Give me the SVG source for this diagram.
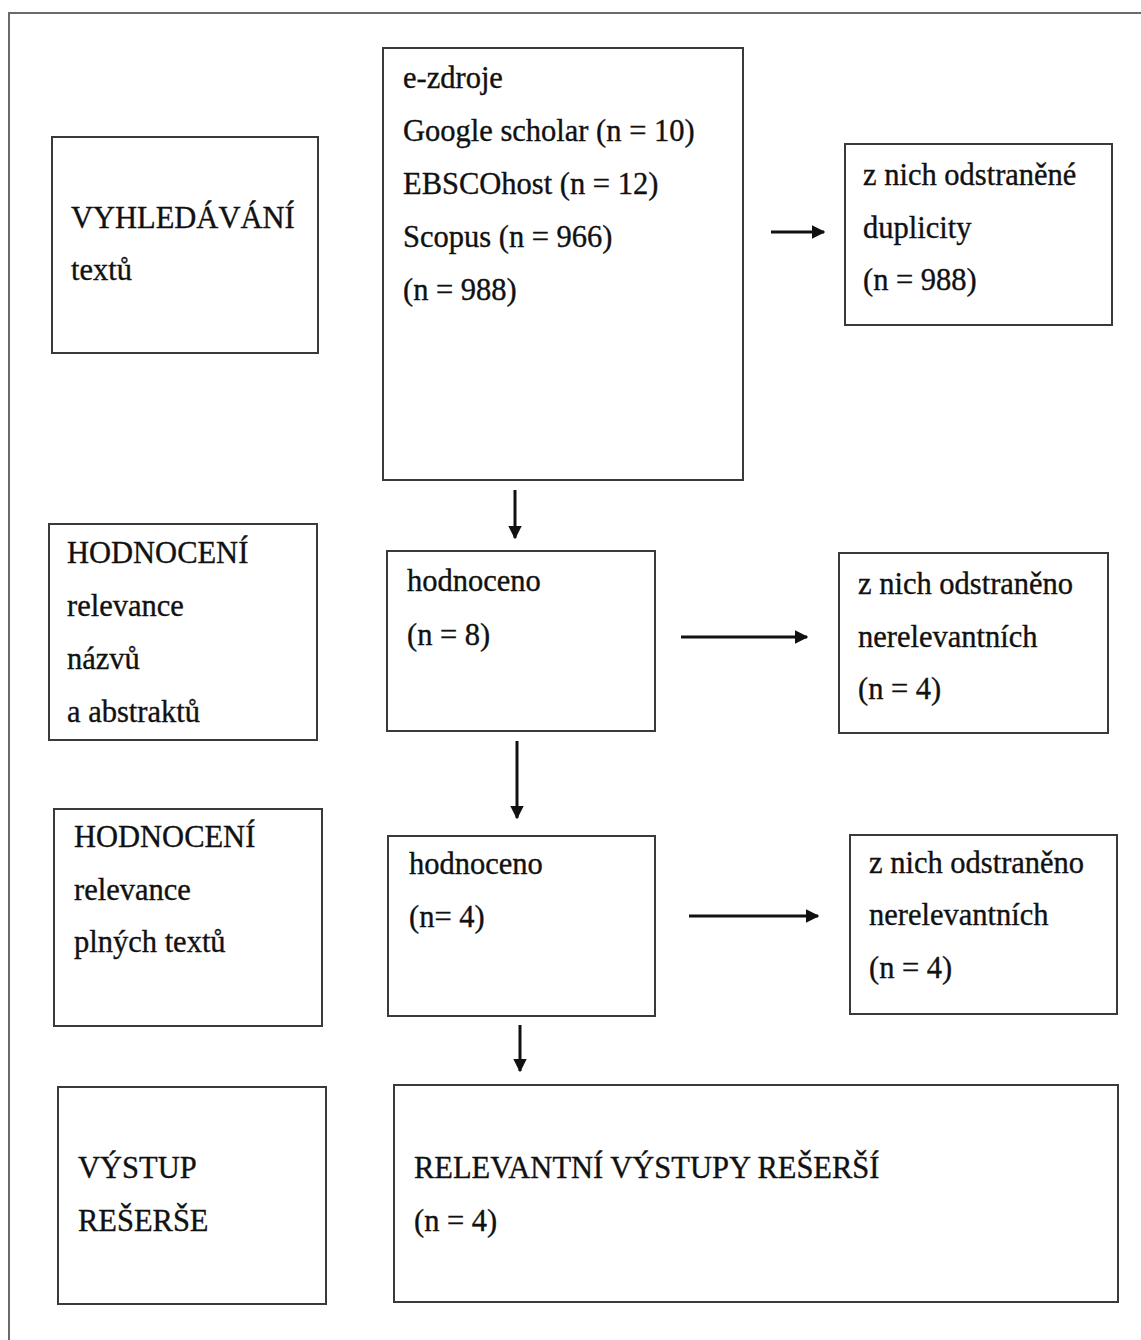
<svg xmlns="http://www.w3.org/2000/svg" width="1141" height="1340" viewBox="0 0 1141 1340">
<style>
.box{fill:#fff;stroke:#3a3a3a;stroke-width:2}
.t{font-family:"Liberation Serif","Times New Roman",serif;font-size:30.5px;fill:#111;stroke:#111;stroke-width:0.35}
.c{stroke:#111;stroke-width:3;fill:none}
.frame{stroke:#6a6a6a;stroke-width:2;fill:none}
</style>
<defs>
<marker id="ah" viewBox="0 0 10 10" refX="9" refY="5" markerWidth="4.5" markerHeight="4.5" orient="auto" markerUnits="strokeWidth">
<path d="M0,0 L10,5 L0,10 z" fill="#111"/>
</marker>
</defs>
<rect width="1141" height="1340" fill="#fff"/>
<path class="frame" d="M9,1340 V13 H1141"/>

<g id="n-vyhledavani">
<rect class="box" x="52" y="137" width="266" height="216"/>
<text class="t" x="71" y="228">VYHLEDÁVÁNÍ</text>
<text class="t" x="71" y="280">textů</text>
</g>
<g id="n-ezdroje">
<rect class="box" x="383" y="48" width="360" height="432"/>
<text class="t" x="403" y="88">e-zdroje</text>
<text class="t" x="403" y="141">Google scholar (n = 10)</text>
<text class="t" x="403" y="194">EBSCOhost (n = 12)</text>
<text class="t" x="403" y="247">Scopus (n = 966)</text>
<text class="t" x="403" y="300">(n = 988)</text>
</g>
<g id="n-duplicity">
<rect class="box" x="845" y="144" width="267" height="181"/>
<text class="t" x="863" y="185">z nich odstraněné</text>
<text class="t" x="863" y="238">duplicity</text>
<text class="t" x="863" y="290">(n = 988)</text>
</g>
<g id="n-hodnoceni1">
<rect class="box" x="49" y="524" width="268" height="216"/>
<text class="t" x="67" y="563">HODNOCENÍ</text>
<text class="t" x="67" y="616">relevance</text>
<text class="t" x="67" y="669">názvů</text>
<text class="t" x="67" y="722">a abstraktů</text>
</g>
<g id="n-hodnoceno1">
<rect class="box" x="387" y="551" width="268" height="180"/>
<text class="t" x="407" y="591">hodnoceno</text>
<text class="t" x="407" y="645">(n = 8)</text>
</g>
<g id="n-odstraneno1">
<rect class="box" x="839" y="553" width="269" height="180"/>
<text class="t" x="858" y="594">z nich odstraněno</text>
<text class="t" x="858" y="647">nerelevantních</text>
<text class="t" x="858" y="699">(n = 4)</text>
</g>
<g id="n-hodnoceni2">
<rect class="box" x="54" y="809" width="268" height="217"/>
<text class="t" x="74" y="847">HODNOCENÍ</text>
<text class="t" x="74" y="900">relevance</text>
<text class="t" x="74" y="952">plných textů</text>
</g>
<g id="n-hodnoceno2">
<rect class="box" x="388" y="836" width="267" height="180"/>
<text class="t" x="409" y="874">hodnoceno</text>
<text class="t" x="409" y="927">(n= 4)</text>
</g>
<g id="n-odstraneno2">
<rect class="box" x="850" y="835" width="267" height="179"/>
<text class="t" x="869" y="873">z nich odstraněno</text>
<text class="t" x="869" y="925">nerelevantních</text>
<text class="t" x="869" y="978">(n = 4)</text>
</g>
<g id="n-vystup">
<rect class="box" x="58" y="1087" width="268" height="217"/>
<text class="t" x="78" y="1178">VÝSTUP</text>
<text class="t" x="78" y="1231">REŠERŠE</text>
</g>
<g id="n-relevantni">
<rect class="box" x="394" y="1085" width="724" height="217"/>
<text class="t" x="414" y="1178">RELEVANTNÍ VÝSTUPY REŠERŠÍ</text>
<text class="t" x="414" y="1231">(n = 4)</text>
</g>

<g id="connectors">
<line class="c" x1="771" y1="232" x2="824" y2="232" marker-end="url(#ah)"/>
<line class="c" x1="515" y1="490" x2="515" y2="538" marker-end="url(#ah)"/>
<line class="c" x1="681" y1="637" x2="807" y2="637" marker-end="url(#ah)"/>
<line class="c" x1="517" y1="741" x2="517" y2="818" marker-end="url(#ah)"/>
<line class="c" x1="689" y1="916" x2="818" y2="916" marker-end="url(#ah)"/>
<line class="c" x1="520" y1="1025" x2="520" y2="1071" marker-end="url(#ah)"/>
</g>
</svg>
